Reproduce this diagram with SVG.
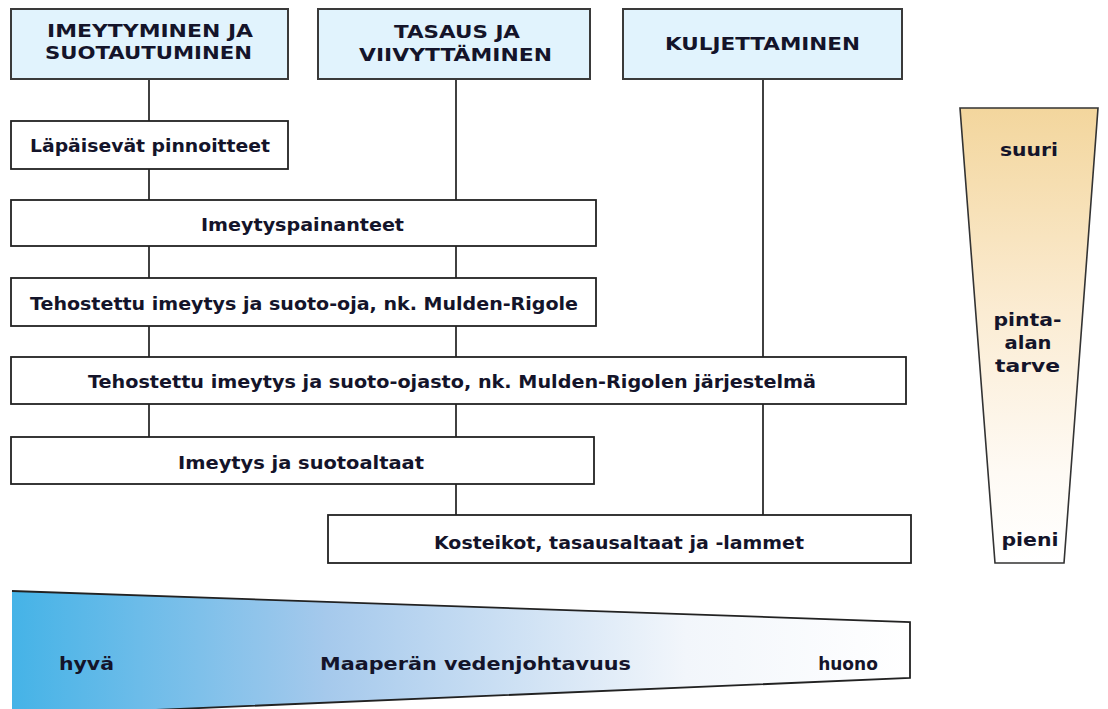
<svg xmlns="http://www.w3.org/2000/svg" width="1108" height="709" viewBox="0 0 1108 709">
  <style>
    .hdr { fill: #e1f3fd; stroke: #3a3a3a; stroke-width: 2; }
    .box { fill: #ffffff; stroke: #222222; stroke-width: 1.8; }
    .t { font-family: "DejaVu Sans", Verdana, sans-serif; font-weight: bold; fill: #14142a; text-anchor: middle; }
    .th { font-size: 18px; }
    .tb { font-size: 17px; }
    .tr { font-size: 18px; }
    .conn line { stroke: #111111; stroke-width: 1.6; }
  </style>
  <defs>
    <linearGradient id="gTan" x1="0" y1="0" x2="0" y2="1">
      <stop offset="0" stop-color="#f3d69d"/>
      <stop offset="0.45" stop-color="#fbecd3"/>
      <stop offset="0.8" stop-color="#fefaf4"/>
      <stop offset="1" stop-color="#ffffff"/>
    </linearGradient>
    <linearGradient id="gBlue" x1="0" y1="0" x2="1" y2="0">
      <stop offset="0" stop-color="#45b3e7"/>
      <stop offset="0.35" stop-color="#a5c9ec"/>
      <stop offset="0.75" stop-color="#f2f6fb"/>
      <stop offset="1" stop-color="#ffffff"/>
    </linearGradient>
  </defs>
  <rect width="1108" height="709" fill="#ffffff"/>

  <g id="connectors" class="conn">
    <line x1="149" y1="79" x2="149" y2="121"/>
    <line x1="149" y1="169" x2="149" y2="200"/>
    <line x1="149" y1="246" x2="149" y2="278"/>
    <line x1="149" y1="326" x2="149" y2="357"/>
    <line x1="149" y1="404" x2="149" y2="437"/>
    <line x1="456" y1="79" x2="456" y2="200"/>
    <line x1="456" y1="246" x2="456" y2="278"/>
    <line x1="456" y1="326" x2="456" y2="357"/>
    <line x1="456" y1="404" x2="456" y2="437"/>
    <line x1="456" y1="484" x2="456" y2="515"/>
    <line x1="763" y1="79" x2="763" y2="357"/>
    <line x1="763" y1="404" x2="763" y2="515"/>
  </g>

  <g id="h1">
    <rect class="hdr" x="11" y="9" width="277" height="70"/>
    <text class="t th" x="150" y="37" textLength="206" lengthAdjust="spacingAndGlyphs">IMEYTYMINEN JA</text>
    <text class="t th" x="148.5" y="59" textLength="207" lengthAdjust="spacingAndGlyphs">SUOTAUTUMINEN</text>
  </g>
  <g id="h2">
    <rect class="hdr" x="318" y="9" width="272" height="70"/>
    <text class="t th" x="457" y="38" textLength="126" lengthAdjust="spacingAndGlyphs">TASAUS JA</text>
    <text class="t th" x="455.5" y="61" textLength="193" lengthAdjust="spacingAndGlyphs">VIIVYTTÄMINEN</text>
  </g>
  <g id="h3">
    <rect class="hdr" x="623" y="9" width="279" height="70"/>
    <text class="t th" x="762.5" y="50" textLength="195" lengthAdjust="spacingAndGlyphs">KULJETTAMINEN</text>
  </g>

  <g id="b1">
    <rect class="box" x="11" y="121" width="277" height="48"/>
    <text class="t tb" x="150" y="152" textLength="240" lengthAdjust="spacingAndGlyphs">Läpäisevät pinnoitteet</text>
  </g>
  <g id="b2">
    <rect class="box" x="11" y="200" width="585" height="46"/>
    <text class="t tb" x="302.5" y="231" textLength="203" lengthAdjust="spacingAndGlyphs">Imeytyspainanteet</text>
  </g>
  <g id="b3">
    <rect class="box" x="11" y="278" width="585" height="48"/>
    <text class="t tb" x="304" y="310" textLength="548" lengthAdjust="spacingAndGlyphs">Tehostettu imeytys ja suoto-oja, nk. Mulden-Rigole</text>
  </g>
  <g id="b4">
    <rect class="box" x="11" y="357" width="895" height="47"/>
    <text class="t tb" x="452" y="388" textLength="728" lengthAdjust="spacingAndGlyphs">Tehostettu imeytys ja suoto-ojasto, nk. Mulden-Rigolen järjestelmä</text>
  </g>
  <g id="b5">
    <rect class="box" x="11" y="437" width="583" height="47"/>
    <text class="t tb" x="301" y="469" textLength="246" lengthAdjust="spacingAndGlyphs">Imeytys ja suotoaltaat</text>
  </g>
  <g id="b6">
    <rect class="box" x="328" y="515" width="583" height="48"/>
    <text class="t tb" x="619" y="549" textLength="370" lengthAdjust="spacingAndGlyphs">Kosteikot, tasausaltaat ja -lammet</text>
  </g>

  <g id="area-scale">
    <polygon points="960,108 1098,108 1064,563 995,563" fill="url(#gTan)" stroke="#333333" stroke-width="1.6"/>
    <text class="t tr" x="1029" y="156" textLength="58" lengthAdjust="spacingAndGlyphs">suuri</text>
    <text class="t tr" x="1027.5" y="326" textLength="68" lengthAdjust="spacingAndGlyphs">pinta-</text>
    <text class="t tr" x="1028" y="349" textLength="47" lengthAdjust="spacingAndGlyphs">alan</text>
    <text class="t tr" x="1027.5" y="372" textLength="65" lengthAdjust="spacingAndGlyphs">tarve</text>
    <text class="t tr" x="1030" y="546" textLength="57" lengthAdjust="spacingAndGlyphs">pieni</text>
  </g>

  <g id="conductivity-scale">
    <polygon points="12,591 910,622 910,678 12,716" fill="url(#gBlue)" stroke="none"/>
    <polyline points="12,591 910,622 910,678 12,716" fill="none" stroke="#222222" stroke-width="1.8"/>
    <text class="t tb" x="86.5" y="670" textLength="55" lengthAdjust="spacingAndGlyphs">hyvä</text>
    <text class="t tb" x="475.5" y="670" textLength="311" lengthAdjust="spacingAndGlyphs">Maaperän vedenjohtavuus</text>
    <text class="t tb" x="848" y="670">huono</text>
  </g>
</svg>
